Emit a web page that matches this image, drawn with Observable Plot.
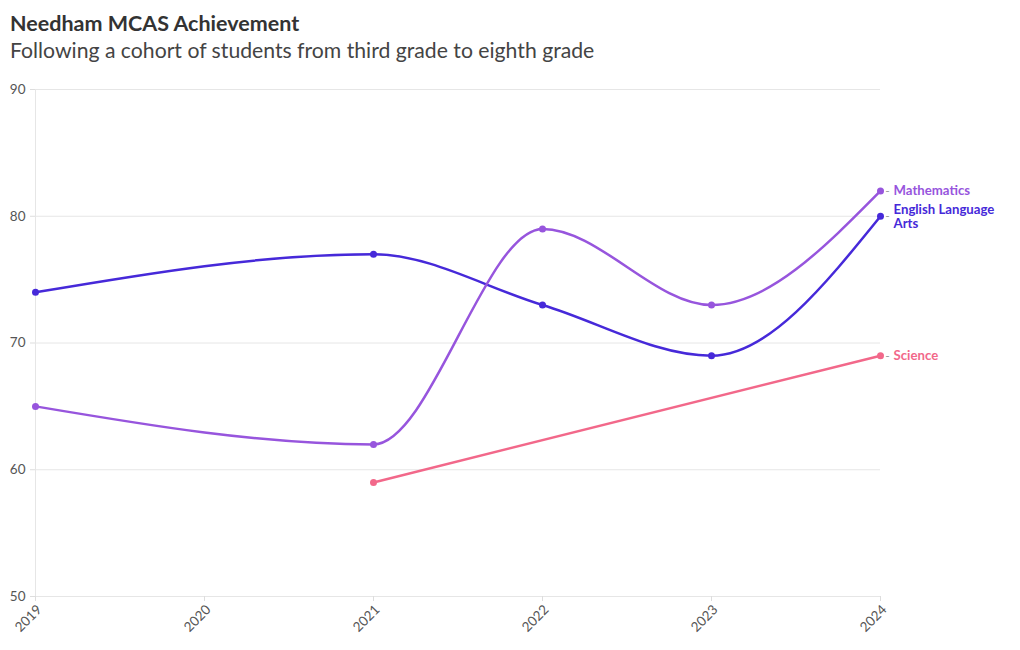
<!DOCTYPE html>
<html><head><meta charset="utf-8">
<script src="https://cdn.jsdelivr.net/npm/d3@7"></script>
<script src="https://cdn.jsdelivr.net/npm/@observablehq/plot@0.6"></script>
<style>
body{margin:0;background:#fff;font-family:Lato,"Noto Sans",sans-serif;}
#t{position:absolute;left:10px;top:10px;font-size:21.5px;font-weight:bold;color:#333;}
#s{position:absolute;left:10px;top:37px;font-size:21.2px;color:#444;}
#c{position:absolute;left:0;top:72px;}
</style></head><body>
<div id="t">Needham MCAS Achievement</div>
<div id="s">Following a cohort of students from third grade to eighth grade</div>
<div id="c"></div>
<script>
const years = [2019, 2020, 2021, 2022, 2023, 2024];
const elaYears = [2019, 2021, 2022, 2023, 2024];
const elaValues = [74, 77, 73, 69, 80];
const mathYears = [2019, 2021, 2022, 2023, 2024];
const mathValues = [65, 62, 79, 73, 82];
const sciYears = [2021, 2024];
const sciValues = [59, 69];
const yTicks = [50, 60, 70, 80, 90];
const seriesNames = ["English Language\nArts", "Mathematics", "Science"];
const colors = ["#4629d9", "#9755dd", "#f2688a"];

const mk = (name, ys, vs) => ys.map((y, i) => ({subject: name, year: y, value: vs[i]}));
const data = [
  ...mk(seriesNames[0], elaYears, elaValues),
  ...mk(seriesNames[1], mathYears, mathValues),
  ...mk(seriesNames[2], sciYears, sciValues)
];
const last = seriesNames.map(n => data.filter(d => d.subject === n).at(-1));

const chart = Plot.plot({
  width: 1020, height: 578,
  marginLeft: 35, marginRight: 140, marginTop: 17, marginBottom: 54,
  style: {fontFamily: "Lato, 'Noto Sans', sans-serif", fontSize: "13px", color: "#444"},
  x: {domain: [2019, 2024], label: null},
  y: {domain: [50, 90], label: null},
  color: {domain: seriesNames, range: colors},
  marks: [
    Plot.gridY(yTicks, {stroke: "#e6e6e6", strokeOpacity: 1}),
    Plot.ruleX([2019], {stroke: "#e6e6e6"}),
    Plot.axisX({ticks: years, tickSize: 5, text: null, stroke: "#ddd", label: null}),
    Plot.axisX({ticks: years, tickFormat: d => String(d), tickRotate: -45, tickSize: 0, tickPadding: 9, dx: 4, dy: 2, fill: "#555", fontSize: 13.5, label: null}),
    Plot.axisY({ticks: yTicks, tickSize: 5, tickPadding: 5, stroke: "#ddd", fill: "#555", fontSize: 13.5, label: null}),
    Plot.line(data, {x: "year", y: "value", z: "subject", stroke: "subject", curve: "monotone-x", strokeWidth: 2.5}),
    Plot.dot(data, {x: "year", y: "value", fill: "subject", r: 3.5}),
    Plot.text(last, {x: "year", y: "value", text: () => "-", dx: 7, fill: "#999", fontSize: 12}),
    Plot.text(last, {x: "year", y: "value", text: "subject", fill: "subject", dx: 13, textAnchor: "start", lineAnchor: "middle", lineHeight: 1.08, fontWeight: "bold", fontSize: 13.2})
  ]
});
document.getElementById("c").appendChild(chart);
</script>
</body></html>
